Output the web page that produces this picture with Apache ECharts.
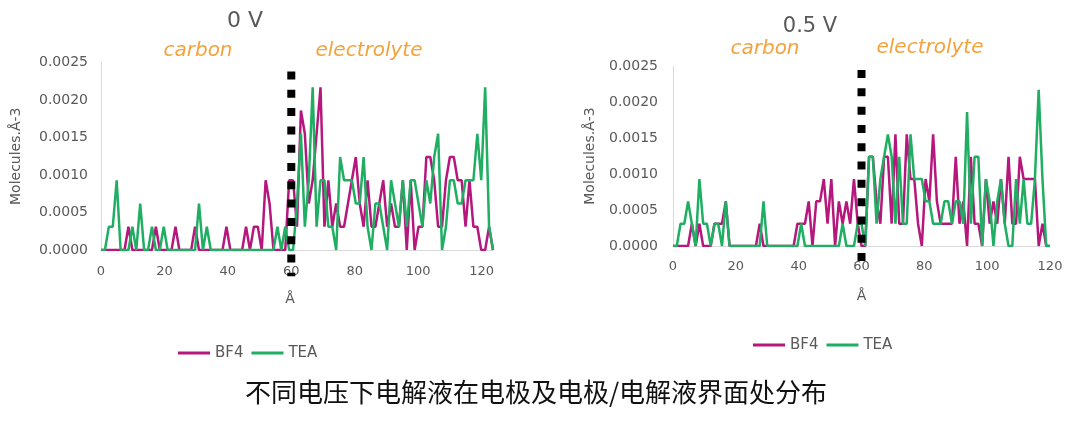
<!DOCTYPE html>
<html><head><meta charset="utf-8">
<script src="https://cdn.jsdelivr.net/npm/echarts@6/dist/echarts.min.js"></script>
<style>html,body{margin:0;padding:0;background:#fff}#c{width:1080px;height:422px}</style>
</head><body><div id="c"></div><script>
// ---- data ----
const SERIES_NAMES = ['BF4', 'TEA'];
const PANEL_TITLES = ['0 V', '0.5 V'];
const REGION_LABELS = ['carbon', 'electrolyte'];
const X_TICKS = [0, 20, 40, 60, 80, 100, 120];
const X_NAME = 'Å';
const Y_NAME = 'Molecules.Å-3';
const INTERFACE_X = 60;           // carbon / electrolyte boundary (Å)
const BIN_0V = 1.236;             // bin width of the 0 V profile (Å)
const BIN_05V = 1.2;              // bin width of the 0.5 V profile (Å)
const CAPTION = '不同电压下电解液在电极及电极/电解液界面处分布';

const BF4_0V = [
0,0,0,0,0,0,0,.00031,0,0,
0,0,0,0,.00031,0,0,0,0,.00031,
0,0,0,0,.00031,0,0,0,0,0,
0,0,.00031,0,0,0,0,.00031,0,.00031,
.00031,0,.00093,.00062,0,0,0,0,.00093,.00093,
.00031,.00186,.00155,.00062,.00093,.00155,.00217,.00031,.00093,.00031,
.00062,.00031,.00031,.00062,.00093,.00124,.00062,.00031,.00093,.00031,
.00031,.00062,.00093,.00031,.00062,.00031,.00031,.00093,0,.00093,
0,.00031,.00031,.00124,.00124,.00093,.00031,.00031,.00093,.00124,
.00124,.00093,.00093,.00031,.00093,.00031,.00031,0,0,.00031,
0];
const TEA_0V = [
0,0,.00031,.00031,.00093,0,0,0,.00031,0,
.00062,0,0,.00031,0,0,.00031,0,0,0,
0,0,0,0,0,.00062,0,.00031,0,0,
0,0,0,0,0,0,0,0,0,0,
0,0,0,0,0,.00031,0,.00031,0,0,
.00062,.00155,.00031,.00093,.00217,.00031,.00093,.00093,.00031,.00031,
0,.00124,.00093,.00093,.00093,.00062,.00062,.00124,.00031,0,
.00062,.00062,.00031,0,.00093,.00062,.00031,.00093,.00031,.00093,
.00093,.00062,.00031,.00093,.00062,.00124,.00155,0,.00031,.00093,
.00093,.00062,.00062,.00093,.00093,.00093,.00155,.00093,.00217,.00031,
0];
const BF4_05V = [
0,0,0,0,0,.00031,0,.00031,0,0,
0,.00031,.00031,.00031,.00062,0,0,0,0,0,
0,0,0,.00031,0,0,0,0,0,0,
0,0,0,.00031,.00031,.00031,.00062,0,.00062,.00062,
.00093,.00031,.00093,0,.00062,.00031,.00062,.00031,.00093,.00031,
0,0,.00124,.00124,.00062,.00031,.00124,.00124,.00031,.00155,
.00031,.00031,.00155,.00093,.00093,.00031,0,.00093,.00062,.00155,
.00062,.00031,.00031,.00031,.00031,.00124,.00031,.00062,0,.00124,
.00031,.00031,0,.00093,.00031,.00062,.00031,.00093,.00031,.00124,
.00031,.00031,.00124,.00093,.00093,.00093,.00093,0,.00031,0,
0];
const TEA_05V = [
0,0,.00031,.00031,.00062,.00031,0,.00093,.00031,.00031,
0,.00031,.00031,0,.00062,0,0,0,0,0,
0,0,0,0,.00062,0,0,0,0,0,
0,0,0,0,.00031,0,0,0,0,0,
0,0,0,0,0,.00031,0,0,0,.00031,
.00031,0,.00124,.00124,.00031,.00093,.00124,.00155,.00124,.00031,
.00124,.00031,.00031,.00155,.00093,.00093,.00093,.00062,.00062,.00031,
.00031,.00031,.00062,.00062,.00031,.00062,.00062,.00031,.00186,.00031,
.00124,.00124,0,.00093,.00062,0,.00062,.00093,.00031,0,
0,.00093,.00031,.00093,.00031,.00031,.00093,.00217,.00093,0,
0];

// ---- chart ----
const FONT = "'DejaVu Sans', sans-serif";
const GRAY = '#595959';
const ORANGE = '#F4A23C';
const COLORS = { BF4: '#B5177D', TEA: '#1FAE62' };

function pairs(step, vals) { return vals.map((v, i) => [+(i * step).toFixed(4), v]); }

const panels = [
  { grid: { left: 101, top: 62.5, width: 392, height: 187.5 }, xmax: 123.6, bins: BIN_0V,
    bf4: BF4_0V, tea: TEA_0V, yGap: 78, yMargin: 13, xMargin: 15, nameGap: 42, namePad: [0, 14, 0, 0],
    dash: [0.00238, -0.00035] },
  { grid: { left: 673, top: 66, width: 377, height: 180 }, xmax: 120, bins: BIN_05V,
    bf4: BF4_05V, tea: TEA_05V, yGap: 76, yMargin: 15, xMargin: 14, nameGap: 43, namePad: [0, 0, 0, 0],
    dash: [0.002444, -0.00021] }
];

const option = {
  animation: false,
  backgroundColor: '#fff',
  grid: panels.map(p => Object.assign({ containLabel: false }, p.grid)),
  xAxis: panels.map((p, k) => ({
    type: 'value', gridIndex: k, min: 0, max: p.xmax, interval: 20,
    axisLine: { show: true, onZero: false, lineStyle: { color: '#D9D9D9', width: 1 } },
    axisTick: { show: false }, splitLine: { show: false },
    axisLabel: { color: GRAY, fontSize: 13, fontFamily: FONT, margin: p.xMargin,
      formatter: v => X_TICKS.includes(v) ? String(v) : '' },
    name: X_NAME, nameLocation: 'middle', nameGap: p.nameGap,
    nameTextStyle: { color: GRAY, fontSize: 14, fontFamily: FONT, padding: p.namePad }
  })),
  yAxis: panels.map((p, k) => ({
    type: 'value', gridIndex: k, min: 0, max: 0.0025, interval: 0.0005,
    axisLine: { show: true, lineStyle: { color: '#D9D9D9', width: 1 } },
    axisTick: { show: false }, splitLine: { show: false },
    axisLabel: { color: GRAY, fontSize: 14, fontFamily: FONT, margin: p.yMargin,
      formatter: v => v.toFixed(4) },
    name: Y_NAME, nameLocation: 'middle', nameGap: p.yGap, nameRotate: 90,
    nameTextStyle: { color: GRAY, fontSize: 14, fontFamily: FONT }
  })),
  legend: [
    { data: SERIES_NAMES, left: 173, top: 339, itemWidth: 32, itemHeight: 3, itemGap: 8, icon: 'rect',
      selectedMode: false, textStyle: { color: GRAY, fontSize: 15, fontFamily: FONT, lineHeight: 18 } },
    { data: SERIES_NAMES, left: 748, top: 331, itemWidth: 32, itemHeight: 3, itemGap: 8, icon: 'rect',
      selectedMode: false, textStyle: { color: GRAY, fontSize: 15, fontFamily: FONT, lineHeight: 18 } }
  ],
  series: [],
  graphic: [
    { type: 'text', x: 245, y: 21, style: { text: PANEL_TITLES[0], fill: GRAY, font: `22px ${FONT}`, textAlign: 'center', textVerticalAlign: 'middle' } },
    { type: 'text', x: 810, y: 27, style: { text: PANEL_TITLES[1], fill: GRAY, font: `21px ${FONT}`, textAlign: 'center', textVerticalAlign: 'middle' } },
    { type: 'text', x: 198, y: 51, style: { text: REGION_LABELS[0], fill: ORANGE, font: `italic 20px ${FONT}`, textAlign: 'center', textVerticalAlign: 'middle' } },
    { type: 'text', x: 369, y: 51, style: { text: REGION_LABELS[1], fill: ORANGE, font: `italic 20px ${FONT}`, textAlign: 'center', textVerticalAlign: 'middle' } },
    { type: 'text', x: 765, y: 49, style: { text: REGION_LABELS[0], fill: ORANGE, font: `italic 20px ${FONT}`, textAlign: 'center', textVerticalAlign: 'middle' } },
    { type: 'text', x: 930, y: 48, style: { text: REGION_LABELS[1], fill: ORANGE, font: `italic 20px ${FONT}`, textAlign: 'center', textVerticalAlign: 'middle' } },
    { type: 'text', x: 536, y: 392, style: { text: CAPTION, fill: '#111', font: `26px 'Noto Sans CJK SC', sans-serif`, textAlign: 'center', textVerticalAlign: 'middle' } }
  ]
};

panels.forEach((p, k) => {
  option.series.push(
    { name: 'BF4', type: 'line', xAxisIndex: k, yAxisIndex: k, data: pairs(p.bins, p.bf4),
      symbol: 'none', z: 2, lineStyle: { color: COLORS.BF4, width: 2.5 }, itemStyle: { color: COLORS.BF4 } },
    { name: 'TEA', type: 'line', xAxisIndex: k, yAxisIndex: k, data: pairs(p.bins, p.tea),
      symbol: 'none', z: 3, lineStyle: { color: COLORS.TEA, width: 2.5 }, itemStyle: { color: COLORS.TEA } },
    { name: 'interface', type: 'line', xAxisIndex: k, yAxisIndex: k, clip: false, silent: true,
      data: [[INTERFACE_X, p.dash[0]], [INTERFACE_X, p.dash[1]]], symbol: 'none', z: 5,
      lineStyle: { color: '#000', width: 8, type: [8, 10.3], cap: 'butt' } }
  );
});

const chart = echarts.init(document.getElementById('c'), null, { renderer: 'canvas' });
chart.setOption(option);
</script></body></html>
